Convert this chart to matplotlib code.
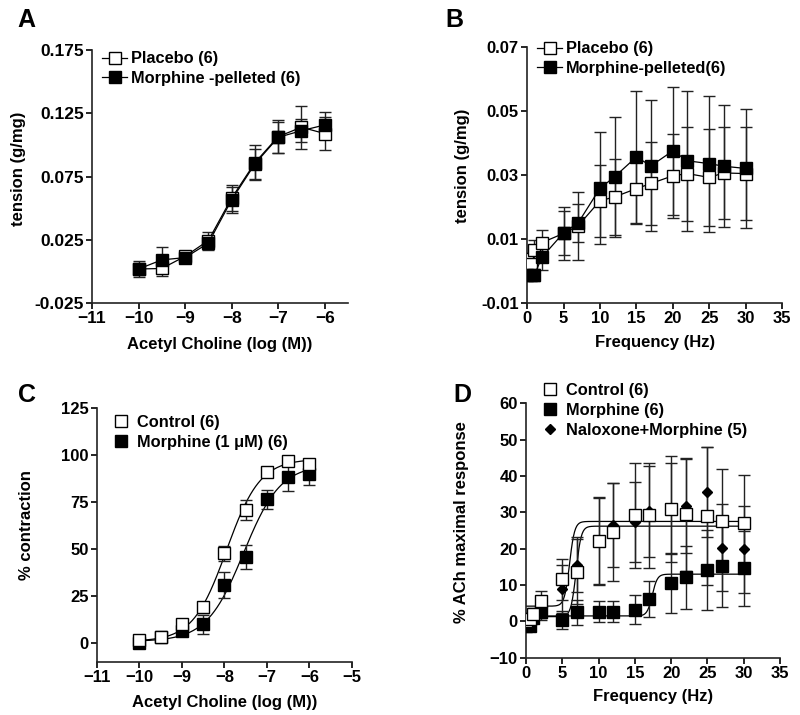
import numpy as np
import matplotlib
matplotlib.use('Agg')
from matplotlib import pyplot as plt

plt.rcParams['font.family'] = ['Liberation Sans', 'DejaVu Sans']
plt.rcParams['font.weight'] = 'bold'

# ---- Panel A : tension vs ACh (log M)
x_A = [-10, -9.5, -9, -8.5, -8, -7.5, -7, -6.5, -6]
pla_A = [0.002, 0.0024, 0.012, 0.0245, 0.058, 0.086, 0.1066, 0.114, 0.109]
pla_A_err = [0.006, 0.006, 0.004, 0.007, 0.010, 0.014, 0.013, 0.017, 0.013]
mor_A = [0.002, 0.0092, 0.011, 0.0224, 0.0566, 0.085, 0.106, 0.1113, 0.1158]
mor_A_err = [0.004, 0.010, 0.004, 0.005, 0.010, 0.012, 0.012, 0.009, 0.010]

# ---- Panel B : tension vs frequency
x_B = [0, 0.5, 1, 2, 5, 7, 10, 12, 15, 17, 20, 22, 25, 27, 30]
pla_B = [0.0037, 0.0022, 0.0066, 0.0089, 0.0118, 0.0142, 0.0220, 0.0232, 0.0258,
         0.0274, 0.0298, 0.0305, 0.0293, 0.0307, 0.0305]
pla_B_err = [0.002, 0.003, 0.003, 0.004, 0.0083, 0.0106, 0.0112, 0.012, 0.011,
             0.013, 0.0132, 0.0147, 0.0152, 0.0145, 0.0146]
mor_B = [-0.0012, -0.0012, -0.0012, 0.0043, 0.012, 0.0151, 0.0259, 0.0295, 0.0357,
         0.0329, 0.0376, 0.0345, 0.0336, 0.0328, 0.0321]
mor_B_err = [0.0015, 0.0015, 0.002, 0.004, 0.0068, 0.006, 0.0175, 0.0188, 0.0205,
             0.0205, 0.020, 0.0218, 0.0213, 0.019, 0.0186]

# ---- Panel C : % contraction vs ACh
x_C = [-10, -9.5, -9, -8.5, -8, -7.5, -7, -6.5, -6]
ctl_C = [1.8, 3.5, 10.1, 19.1, 47.9, 70.9, 91.0, 97.0, 95.2]
ctl_C_err = [1, 1, 2, 3, 4, 5.5, 2, 2, 3]
mor_C = [0.3, 3.2, 6.6, 10.1, 31.0, 45.9, 76.6, 88.7, 90.0]
mor_C_err = [1, 1, 2.5, 5, 7, 6.5, 5, 7.5, 6]
# fitted sigmoid (bottom, top, logEC50, hill)
fit_ctl_C = (1, 98, -7.95, 1.1)
fit_mor_C = (1, 95, -7.55, 1.0)

# ---- Panel D : % ACh maximal response vs frequency
x_D = [0, 0.5, 1, 2, 5, 7, 10, 12, 15, 17, 20, 22, 25, 27, 30]
ctl_D = [0.2, 0.8, 2.1, 5.5, 11.6, 13.7, 22.2, 24.7, 29.2, 29.2, 30.9, 29.5, 29.0, 27.7, 27.2]
ctl_D_err = [1, 1, 1.5, 2.8, 5.6, 9, 12, 13.5, 14.4, 14.4, 14.5, 15.5, 19, 14.2, 13]
mor_D = [-1.3, -1.3, 1.0, 2.5, 0.5, 2.5, 2.7, 2.7, 3.2, 6.2, 10.6, 12.1, 14.1, 15.3, 14.6]
mor_D_err = [0.8, 0.8, 1, 1.5, 2.5, 3.5, 2.8, 2.8, 4, 5, 8.2, 8.7, 11, 11.2, 10.3]
x_N = [0, 1, 2, 5, 7, 10, 12, 15, 17, 20, 22, 25, 27, 30]
nal_D = [0.5, 1.5, 2.5, 8.9, 15.6, 22.0, 26.5, 27.3, 30.3, 31.0, 31.8, 35.6, 20.3, 19.8]
nal_D_err = [1, 1.5, 2, 6.5, 7.5, 12, 11.5, 11, 12.5, 12.5, 13, 12.5, 12, 12]
# fitted step sigmoids (bottom, top, x50, width)
fit_ctl_D = (4.2, 27.5, 6.0, 0.35)
fit_mor_D = (1.5, 13.0, 17.4, 0.35)
fit_nal_D = (1.3, 26.2, 6.9, 0.35)

TICK = 12
LAB = 12
LEG = 11.8


def style(ax, xl, yl, ylx, yly, xly, tsize=TICK):
    for s in ['top', 'right']:
        ax.spines[s].set_visible(False)
    for s in ['left', 'bottom']:
        ax.spines[s].set_linewidth(1.2)
        ax.spines[s].set_color('#222222')
    ax.tick_params(direction='out', length=4, width=1.2, labelsize=tsize, pad=2)
    for t in ax.get_xticklabels() + ax.get_yticklabels():
        t.set_fontweight('bold')
    ax.set_xlabel(xl, fontsize=LAB, fontweight='bold')
    ax.set_ylabel(yl, fontsize=LAB, fontweight='bold')
    ax.xaxis.set_label_coords(0.5, xly)
    ax.yaxis.set_label_coords(ylx, yly)


def serie(ax, x, y, e, filled, label, line=True, mk='s', ms=8):
    fc = 'black' if filled else 'white'
    ax.errorbar(x, y, yerr=e, fmt='none', ecolor='#222222', elinewidth=1,
                capsize=4, capthick=1, zorder=2)
    ax.plot(x, y, ls='-' if line else 'none', lw=0.9, color='black',
            marker=mk, ms=ms, mfc=fc, mec='black', mew=1, label=label, zorder=3)


def sig_log(x, p):
    b, t, ec, h = p
    return b + (t - b) / (1 + 10 ** ((ec - x) * h))


def sig_lin(x, p):
    b, t, x50, w = p
    return b + (t - b) / (1 + np.exp(-(x - x50) / w))


def leg(ax, h, l, anchor, hl, htp):
    ax.legend(h, l, loc='upper left', bbox_to_anchor=anchor, frameon=False,
              prop={'weight': 'bold', 'size': LEG}, handlelength=hl, handletextpad=htp,
              borderaxespad=0, borderpad=0, labelspacing=0.3, numpoints=1)


fig = plt.figure(figsize=(8, 7.15), dpi=100)

# A
axA = fig.add_axes([0.115, 0.576, 0.32, 0.354])
serie(axA, x_A, pla_A, pla_A_err, False, 'Placebo (6)')
serie(axA, x_A, mor_A, mor_A_err, True, 'Morphine -pelleted (6)')
h, l = axA.get_legend_handles_labels()
axA.set_xlim(-11, -5.5)
axA.set_ylim(-0.025, 0.175)
axA.set_xticks([-11, -10, -9, -8, -7, -6])
axA.set_yticks([-0.025, 0.025, 0.075, 0.125, 0.175])
axA.set_yticklabels(['-0.025', '0.025', '0.075', '0.125', '0.175'])
leg(axA, h, l, (0.04, 0.995), 1.5, 0.25)
style(axA, 'Acetyl Choline (log (M))', 'tension (g/mg)', -0.258, 0.53, -0.134, 12.5)
fig.text(0.022, 0.972, 'A', fontsize=18, fontweight='bold', va='center')

# B
axB = fig.add_axes([0.659, 0.576, 0.3185, 0.358])
serie(axB, x_B, pla_B, pla_B_err, False, 'Placebo (6)')
serie(axB, x_B, mor_B, mor_B_err, True, 'Morphine-pelleted(6)')
h, l = axB.get_legend_handles_labels()
axB.set_xlim(0, 35)
axB.set_ylim(-0.01, 0.07)
axB.set_xticks(range(0, 36, 5))
axB.set_yticks([-0.01, 0.01, 0.03, 0.05, 0.07])
axB.set_yticklabels(['-0.01', '0.01', '0.03', '0.05', '0.07'])
leg(axB, h, l, (0.04, 1.023), 1.5, 0.25)
style(axB, 'Frequency (Hz)', 'tension (g/mg)', -0.224, 0.535, -0.125)
fig.text(0.557, 0.972, 'B', fontsize=18, fontweight='bold', va='center')

# C
axC = fig.add_axes([0.121, 0.074, 0.319, 0.355])
xc = np.linspace(-10, -6, 200)
axC.plot(xc, sig_log(xc, fit_ctl_C), color='black', lw=0.9, zorder=1)
axC.plot(xc, sig_log(xc, fit_mor_C), color='black', lw=0.9, zorder=1)
serie(axC, x_C, mor_C, mor_C_err, True, 'Morphine (1 μM) (6)', line=False)
serie(axC, x_C, ctl_C, ctl_C_err, False, 'Control (6)', line=False)
h, l = axC.get_legend_handles_labels()
axC.set_xlim(-11, -5)
axC.set_ylim(-10, 125)
axC.set_xticks(range(-11, -4))
axC.set_yticks(range(0, 126, 25))
leg(axC, h[::-1], l[::-1], (0.065, 0.975), 0.9, 0.55)
style(axC, 'Acetyl Choline (log (M))', '% contraction', -0.247, 0.54, -0.13)
fig.text(0.022, 0.447, 'C', fontsize=18, fontweight='bold', va='center')

# D
axD = fig.add_axes([0.6575, 0.080, 0.3175, 0.356])
xd = np.linspace(0, 30, 400)
axD.plot(xd, sig_lin(xd, fit_ctl_D), color='black', lw=0.9, zorder=1)
axD.plot(xd, sig_lin(xd, fit_mor_D), color='black', lw=0.9, zorder=1)
axD.plot(xd, sig_lin(xd, fit_nal_D), color='black', lw=0.9, zorder=1)
serie(axD, x_D, mor_D, mor_D_err, True, 'Morphine (6)', line=False)
serie(axD, x_N, nal_D, nal_D_err, True, 'Naloxone+Morphine (5)', line=False, mk='D', ms=5.5)
serie(axD, x_D, ctl_D, ctl_D_err, False, 'Control (6)', line=False)
h, l = axD.get_legend_handles_labels()
axD.set_xlim(0, 35)
axD.set_ylim(-10, 60)
axD.set_xticks(range(0, 36, 5))
axD.set_yticks(range(-10, 61, 10))
leg(axD, [h[2], h[0], h[1]], [l[2], l[0], l[1]], (0.065, 1.08), 0.9, 0.55)
style(axD, 'Frequency (Hz)', '% ACh maximal response', -0.224, 0.533, -0.122)
fig.text(0.567, 0.447, 'D', fontsize=18, fontweight='bold', va='center')

fig.savefig('out.png', dpi=100)
